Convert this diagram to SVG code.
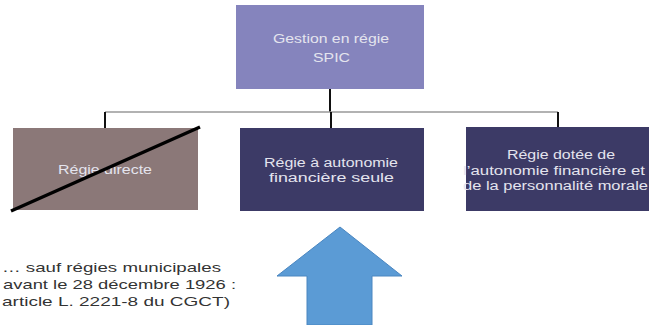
<svg xmlns="http://www.w3.org/2000/svg" width="650" height="325" viewBox="0 0 650 325">
<style>
.bt{font-family:"Liberation Sans",Arial,sans-serif;font-size:12.5px;fill:#e4e4ee;text-anchor:middle}
.nt{font-family:"Liberation Sans",Arial,sans-serif;font-size:13.5px;fill:#333}
.v{stroke:#111;stroke-width:2;fill:none}
.h{stroke:#999;stroke-width:1.5;fill:none}
</style>
<rect width="650" height="325" fill="#fff"/>
<g id="connectors">
<line class="v" x1="330" y1="89" x2="330" y2="112"/>
<line class="h" x1="105" y1="112" x2="558" y2="112"/>
<line class="v" x1="105" y1="112" x2="105" y2="128"/>
<line class="v" x1="331" y1="112" x2="331" y2="128"/>
<line class="v" x1="558" y1="112" x2="558" y2="127"/>
</g>
<g id="top">
<rect x="236" y="5" width="188" height="84" fill="#8584bd"/>
<text class="bt" x="331" y="43" textLength="116" lengthAdjust="spacingAndGlyphs">Gestion en régie</text>
<text class="bt" x="331.5" y="62" textLength="37" lengthAdjust="spacingAndGlyphs">SPIC</text>
</g>
<g id="left">
<rect x="13" y="128" width="185" height="82" fill="#8b7878"/>
<text class="bt" x="105" y="174" textLength="94" lengthAdjust="spacingAndGlyphs">Régie directe</text>
<line x1="11" y1="211" x2="200" y2="127" stroke="#000" stroke-width="3.5"/>
</g>
<g id="middle">
<rect x="240" y="128" width="184" height="83" fill="#3c3a66"/>
<text class="bt" x="331" y="167" textLength="134" lengthAdjust="spacingAndGlyphs">Régie à autonomie</text>
<text class="bt" x="331.5" y="182" textLength="125" lengthAdjust="spacingAndGlyphs">financière seule</text>
</g>
<g id="right">
<rect x="466" y="127" width="183" height="84" fill="#3c3a66"/>
<text class="bt" x="561" y="159" textLength="108" lengthAdjust="spacingAndGlyphs">Régie dotée de</text>
<text class="bt" x="554" y="175" textLength="182" lengthAdjust="spacingAndGlyphs">l’autonomie financière et</text>
<text class="bt" x="555.5" y="190" textLength="185" lengthAdjust="spacingAndGlyphs">de la personnalité morale</text>
</g>
<g id="arrow">
<polygon points="340,227 402,276 372,276 372,325 307,325 307,276 277,276" fill="#5b9bd5" stroke="#4a86c0" stroke-width="1"/>
</g>
<g id="note">
<text class="nt" x="2" y="272" textLength="219" lengthAdjust="spacingAndGlyphs">… sauf régies municipales</text>
<text class="nt" x="3" y="289" textLength="233" lengthAdjust="spacingAndGlyphs">avant le 28 décembre 1926 :</text>
<text class="nt" x="2" y="306" textLength="228" lengthAdjust="spacingAndGlyphs">article L. 2221-8 du CGCT)</text>
</g>
</svg>
